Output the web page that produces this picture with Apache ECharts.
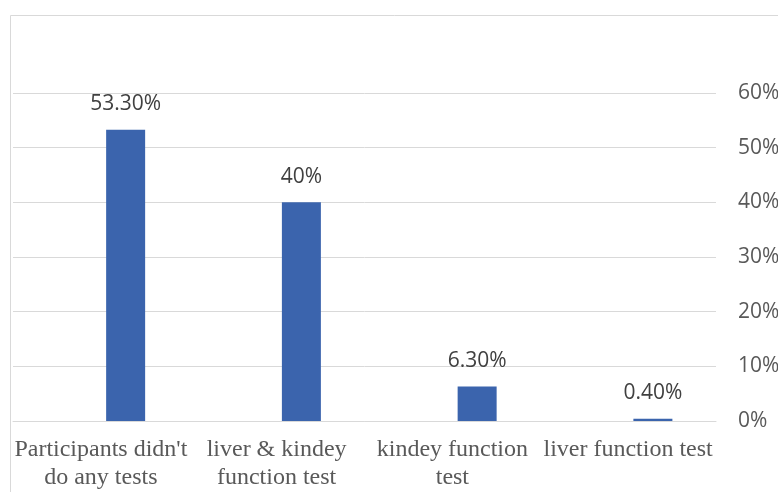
<!DOCTYPE html>
<html>
<head>
<meta charset="utf-8">
<script src="https://cdn.jsdelivr.net/npm/echarts@6/dist/echarts.min.js"></script>
<style>
  html, body { margin: 0; padding: 0; background: #fff; overflow: hidden; }
  #chart { width: 778px; height: 492px; }
</style>
</head>
<body>
<div id="chart"></div>
<script>
var categories = ["Participants didn't\ndo any tests", "liver & kindey\nfunction test", "kindey function\ntest", "liver function test"];
var values = [0.533, 0.40, 0.063, 0.004];
var valueLabels = ["53.30%", "40%", "6.30%", "0.40%"];
var yTicks = [0, 0.1, 0.2, 0.3, 0.4, 0.5, 0.6];

var chart = echarts.init(document.getElementById("chart"));

// empty placeholder series so the real bar sits right of the category centre
var blank = categories.map(function () { return null; });

chart.setOption({
  animation: false,
  graphic: [{
    type: 'rect',
    left: 8, top: 13,
    shape: { width: 800, height: 500 },
    style: { fill: 'none', stroke: '#d9d9d9', lineWidth: 1 },
    silent: true
  }],
  grid: { left: 13, right: 62, top: 93, bottom: 71, outerBoundsMode: 'none', containLabel: false },
  xAxis: {
    type: 'category',
    data: categories,
    axisLine: { lineStyle: { color: '#d9d9d9', width: 1 } },
    axisTick: { show: false },
    axisLabel: {
      interval: 0,
      margin: 15,
      color: '#595959',
      fontFamily: 'Liberation Serif',
      fontSize: 24,
      lineHeight: 28
    }
  },
  yAxis: {
    type: 'value',
    position: 'right',
    min: 0, max: 0.6, interval: 0.1,
    axisLine: { show: false },
    axisTick: { show: false },
    splitLine: { lineStyle: { color: '#d9d9d9', width: 1 } },
    axisLabel: {
      margin: 22,
      color: '#595959',
      fontFamily: 'Open Sans',
      fontSize: 21,
      formatter: function (v) {
        return yTicks.indexOf(Math.round(v * 10) / 10) >= 0 ? Math.round(v * 100) + '%' : '';
      }
    }
  },
  series: [
    {
      type: 'bar',
      data: blank,
      barWidth: 39,
      barGap: '27%'
    },
    {
      type: 'bar',
      data: values,
      barWidth: 39,
      barGap: '27%',
      itemStyle: { color: '#3b64ad' },
      label: {
        show: true,
        position: 'top',
        distance: 15,
        color: '#404040',
        fontFamily: 'Open Sans',
        fontSize: 21,
        formatter: function (p) { return valueLabels[p.dataIndex]; }
      }
    }
  ]
});
</script>
</body>
</html>
